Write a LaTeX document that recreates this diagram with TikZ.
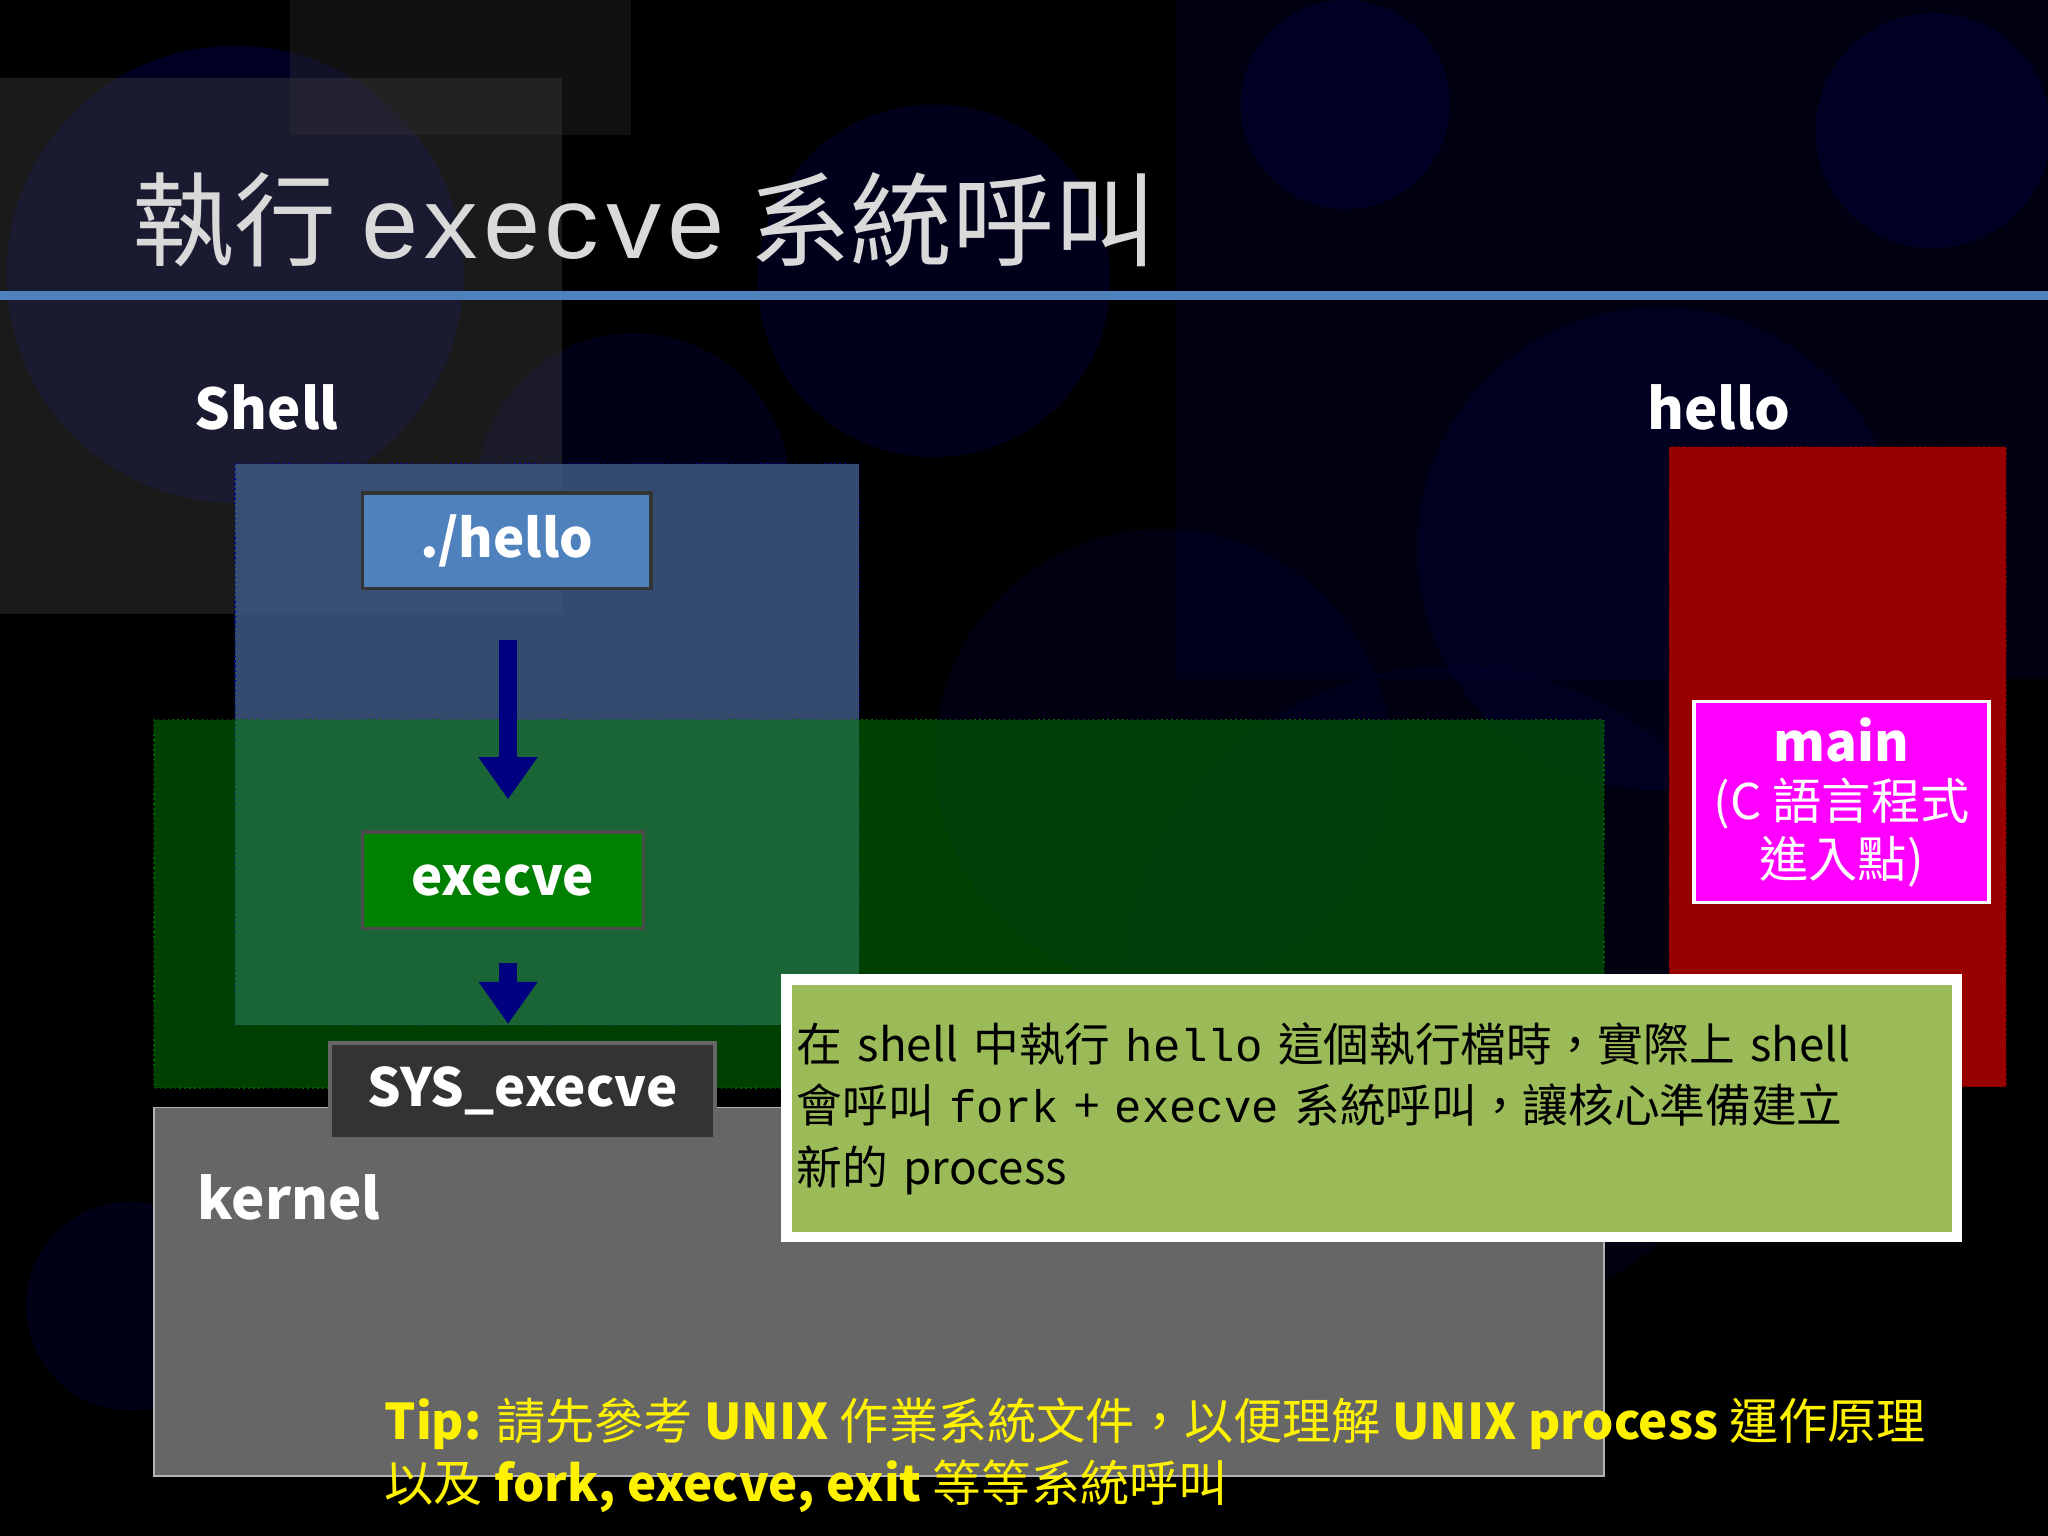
\documentclass[tikz,border=0pt]{standalone}
\usetikzlibrary{arrows.meta}
\usepackage{fontspec}
\setmainfont{Noto Sans CJK TC}
\newfontfamily\cjk{Noto Sans CJK TC}
\newfontfamily\mono{Liberation Mono}
\definecolor{shellblue}{RGB}{62,88,130}
\definecolor{hbox}{RGB}{79,129,189}
\definecolor{notegreen}{RGB}{155,187,89}
\definecolor{mag}{RGB}{255,0,255}
\begin{document}
\begin{tikzpicture}[x=0.01306cm,y=-0.01306cm,
  lbl/.style={text=white,font=\cjk\fontsize{16}{18}\selectfont\bfseries},
  bx/.style={draw=black!70,line width=1pt,text=white,font=\cjk\fontsize{15}{18}\selectfont\bfseries},
  arr/.style={draw=blue!50!black,line width=5pt,-{Triangle[length=12pt,width=16pt]}}]
\useasboundingbox (0,0) rectangle (1568,1176);
\fill[black] (0,0) rectangle (1568,1176);
% decorative background
\begin{scope}[opacity=0.35]
\fill[blue!40!black] (180,210) circle (175);
\fill[blue!30!black] (715,215) circle (135);
\fill[blue!25!black] (485,375) circle (120);
\fill[blue!25!black] (1270,420) circle (185);
\fill[blue!20!black] (890,580) circle (175);
\fill[blue!20!black] (1110,760) circle (250);
\fill[blue!25!black] (100,1000) circle (80);
\fill[black!70] (0,60) rectangle (430,470);
\fill[black!80] (222,0) rectangle (483,103);
\fill[blue!20!black] (900,0) rectangle (1568,520);
\fill[blue!30!black] (1480,100) circle (90);
\fill[blue!30!black] (1030,80) circle (80);
\end{scope}
\node[anchor=west,text=black!15,font=\cjk\fontsize{29}{34}\selectfont] (title) at (92,168) {執行 {\mono execve} 系統呼叫};
\fill[hbox] (0,223) rectangle (1568,230);
\node[lbl] (shell) at (204,312) {Shell};
\node[lbl] (hellol) at (1316,312) {hello};
\fill[shellblue,opacity=0.85] (180,355) rectangle (658,785);
\draw[densely dotted,blue!60!black] (180,355) rectangle (658,785);
\fill[green!50!black,opacity=0.5] (118,551) rectangle (1228,833);
\draw[densely dotted,green!40!black] (118,551) rectangle (1228,833);
\fill[red!60!black] (1278,342) rectangle (1536,832);
\draw[densely dotted,red!40!black] (1278,342) rectangle (1536,832);
\fill[black!60] (118,848) rectangle (1228,1130);
\draw[black!30] (118,848) rectangle (1228,1130);
\node[bx,fill=hbox,draw=black!80,minimum width=221*0.01306cm,minimum height=73*0.01306cm] (h) at (388,414) {./hello};
\node[bx,fill=green!50!black,minimum width=215*0.01306cm,minimum height=74*0.01306cm] (e) at (385,674) {execve};
\node[bx,fill=black!80,draw=black!60,minimum width=295*0.01306cm,minimum height=73*0.01306cm] (s) at (400,835) {SYS\_execve};
\coordinate (a1) at (389,490);
\coordinate (a2) at (389,612);
\coordinate (a3) at (389,737);
\coordinate (a4) at (389,784);
\draw[arr] (a1) -- (a2);
\draw[arr] (a3) -- (a4);
\node[lbl,anchor=west] (k) at (142,917) {kernel};
\node[bx,fill=mag,draw=white!70,align=center,font=\cjk\fontsize{14}{16.5}\selectfont,minimum width=226*0.01306cm,minimum height=154*0.01306cm] (m) at (1410,614) {{\fontsize{15}{17}\selectfont\bfseries main}\\(C 語言程式\\進入點)};
\fill[black!70] (601,750) rectangle (1499,950);
\node[draw=white,line width=3pt,fill=notegreen,anchor=north west,minimum width=895*0.01306cm,minimum height=197*0.01306cm,text width=880*0.01306cm,align=left,inner sep=3pt,font=\cjk\fontsize{13}{17.5}\selectfont] (n) at (598,746) {在 shell 中執行 {\mono hello} 這個執行檔時，實際上 shell\\會呼叫 {\mono fork} + {\mono execve} 系統呼叫，讓核心準備建立\\新的 process};
\node[anchor=north west,text=yellow,align=left,font=\cjk\fontsize{14}{17.5}\selectfont,inner sep=0] (tip) at (294,1070) {\textbf{Tip:} 請先參考 \textbf{UNIX} 作業系統文件，以便理解 \textbf{UNIX process} 運作原理\\以及 \textbf{fork, execve, exit} 等等系統呼叫};
\end{tikzpicture}
\end{document}
